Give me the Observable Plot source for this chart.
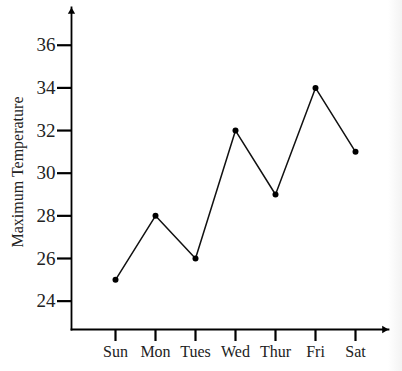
<!DOCTYPE html>
<html>
<head>
<meta charset="utf-8">
<script src="https://cdn.jsdelivr.net/npm/d3@7"></script>
<script src="https://cdn.jsdelivr.net/npm/@observablehq/plot@0.6"></script>
<style>
  html, body { margin: 0; padding: 0; background: #fff; }
</style>
</head>
<body>
<div id="chart"></div>
<script>
const days = ["Sun", "Mon", "Tues", "Wed", "Thur", "Fri", "Sat"];
const maxTemp = [25, 28, 26, 32, 29, 34, 31];
const yTicks = [24, 26, 28, 30, 32, 34, 36];

const data = days.map((d, i) => ({day: d, temp: maxTemp[i]}));

const chart = Plot.plot({
  width: 402,
  height: 371,
  marginLeft: 71,
  marginRight: 14,
  marginTop: 7,
  marginBottom: 42,
  style: {
    fontFamily: "'Liberation Serif', 'DejaVu Serif', serif",
    color: "black",
    background: "linear-gradient(to right, #ffffff 0%, #ffffff 96.5%, #f3f3f3 100%)"
  },
  x: {type: "point", domain: days, range: [115, 355.7], padding: 0},
  y: {domain: [22.67, 37.77]},
  marks: [
    Plot.axisY({ticks: yTicks, tickSize: 14, tickPadding: 2, fontSize: 19, strokeWidth: 2.2, label: null, fill: "#222"}),
    Plot.axisX({tickSize: 12, tickPadding: 4, fontSize: 16, strokeWidth: 2.2, label: null, fill: "#222"}),
    Plot.frame({anchor: "left", strokeWidth: 1.8, stroke: "black"}),
    Plot.frame({anchor: "bottom", strokeWidth: 1.8, stroke: "black"}),
    Plot.dot([0], {frameAnchor: "top-left", symbol: "triangle2", r: 3.5, fill: "black", stroke: "none", dy: 4.2}),
    Plot.dot([0], {frameAnchor: "bottom-right", symbol: "triangle2", r: 3.5, fill: "black", stroke: "none", rotate: 90, dx: -4.2}),
    Plot.line(data, {x: "day", y: "temp", stroke: "#111", strokeWidth: 1.5}),
    Plot.dot(data, {x: "day", y: "temp", r: 3, fill: "black", stroke: "none"}),
    Plot.text(["Maximum Temperature"], {frameAnchor: "left", textAnchor: "middle", rotate: -90, dx: -54, dy: 3.5, fontSize: 16, fill: "#222"})
  ]
});
document.getElementById("chart").appendChild(chart);
</script>
</body>
</html>
